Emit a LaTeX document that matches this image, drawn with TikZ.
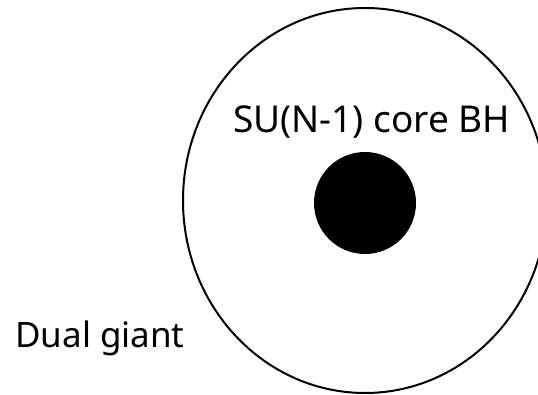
\documentclass[tikz,border=0pt]{standalone}
\usepackage{fontspec}
\setmainfont{Noto Sans}
\usetikzlibrary{shapes.geometric}
\tikzset{
  outer/.style={draw, ellipse, line width=2pt, inner sep=0pt, minimum width=364pt, minimum height=385pt},
  core/.style={circle, fill=black, inner sep=0pt, minimum size=102pt},
  lbl/.style={inner sep=0pt, anchor=base west, text=black}
}
\begin{document}
\begin{tikzpicture}[x=1pt,y=-1pt]
\useasboundingbox (0,0) rectangle (538,395);
\clip (0,0) rectangle (538,395);
\node[outer] (giant) at (365,200.5) {};
\node[core] (bh) at (365,203) {};
\node[lbl, font=\fontsize{37}{40}\selectfont] (corelbl) at (233,133) {SU(N-1) core BH};
\node[lbl, font=\fontsize{35}{38}\selectfont] (duallbl) at (15,347) {Dual giant};
\end{tikzpicture}
\end{document}
